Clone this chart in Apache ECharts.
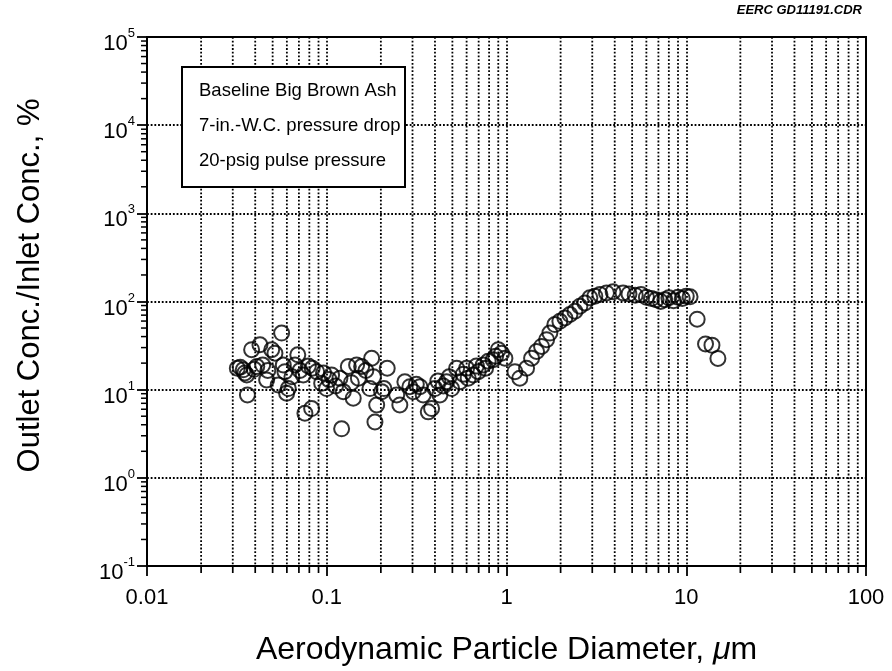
<!DOCTYPE html>
<html>
<head>
<meta charset="utf-8">
<script src="https://cdn.jsdelivr.net/npm/echarts@6/dist/echarts.min.js"></script>
<style>
  html, body { margin: 0; padding: 0; background: #fff; }
  #chart { width: 892px; height: 671px; }
</style>
</head>
<body>
<div id="chart"></div>
<script>
// Aerodynamic particle diameter, µm
const diameter = [
  0.0318, 0.0330, 0.0343, 0.0350, 0.0359, 0.0362, 0.0382, 0.0395, 0.0408, 0.0425,
  0.0440, 0.0463, 0.0470, 0.0494, 0.0515, 0.0537, 0.0561, 0.0573, 0.0585, 0.0598,
  0.0611, 0.0640, 0.0666, 0.0690, 0.0710, 0.0740, 0.0756, 0.0790, 0.0824, 0.0830,
  0.0879, 0.0937, 0.0960, 0.0998, 0.1030, 0.1064, 0.1120, 0.1184, 0.1210, 0.1236,
  0.1318, 0.1370, 0.1404, 0.1466, 0.1500, 0.1563, 0.1650, 0.1739, 0.1778, 0.1820,
  0.1854, 0.1896, 0.2020, 0.2080, 0.2170,
  0.245, 0.255, 0.272, 0.290, 0.303, 0.315, 0.330, 0.344, 0.367, 0.383,
  0.400, 0.415, 0.426, 0.445, 0.464, 0.480, 0.495, 0.528, 0.551, 0.575,
  0.600, 0.612, 0.653, 0.680, 0.696, 0.742, 0.765, 0.791, 0.843, 0.870,
  0.900, 0.939, 0.980,
  1.114, 1.186, 1.293, 1.379, 1.470, 1.567, 1.671, 1.743, 1.858, 1.981,
  2.113, 2.253, 2.402, 2.56, 2.73, 2.91, 3.10, 3.31, 3.60, 3.92,
  4.45, 4.80, 5.20, 5.60, 6.00, 6.40, 6.80, 7.20, 7.60, 8.00,
  8.50, 9.00, 9.50, 10.0, 10.5, 11.5, 12.8, 13.9, 15.0
];
// Outlet / inlet concentration, %
const penetration = [
  17.5, 18.0, 16.8, 15.5, 14.7, 8.7, 28.4, 17.0, 18.3, 32.3,
  19.0, 12.9, 16.5, 28.4, 25.9, 11.3, 43.8, 19.1, 16.0, 9.1,
  10.3, 14.0, 19.1, 24.9, 16.5, 14.7, 5.4, 18.5, 6.1, 17.5,
  16.0, 11.8, 15.5, 10.3, 13.0, 14.7, 11.0, 13.5, 3.6, 9.5,
  18.3, 12.0, 8.0, 19.1, 13.5, 18.3, 16.5, 10.3, 22.7, 14.0,
  4.3, 6.7, 9.5, 10.3, 17.5,
  8.7, 6.7, 12.3, 10.8, 9.5, 11.5, 10.8, 8.7, 5.6, 6.1,
  10.3, 12.5, 8.7, 11.0, 12.3, 14.0, 10.3, 17.5, 12.3, 15.0,
  17.5, 13.5, 14.7, 18.5, 16.0, 19.1, 17.5, 21.0, 21.9, 24.0,
  28.4, 25.9, 22.7,
  16.0, 13.5, 17.5, 22.7, 27.1, 30.9, 36.9, 43.8, 54.7, 59.6,
  65.0, 71.1, 77.5, 88.3, 96.4, 110, 115, 120, 125, 129,
  125, 122, 118, 120, 112, 108, 105, 100, 105, 110,
  102, 112, 108, 115, 113, 63, 33, 32, 22.6
];

const xTickLabels = ['0.01', '0.1', '1', '10', '100'];
const yTickExponents = ['-1', '0', '1', '2', '3', '4', '5'];
const noteLines = ['Baseline Big Brown Ash', '7-in.-W.C. pressure drop', '20-psig pulse pressure'];

const X_MIN = 0.01, X_MAX = 100, Y_MIN = 0.1, Y_MAX = 1e5;
const FONT = '"Liberation Sans", Arial, Helvetica, sans-serif';

// intermediate log ticks (2..9 within each decade)
function minorValues(lo, hi) {
  const out = [];
  for (let d = lo; d < hi * 0.999; d *= 10) {
    for (let m = 2; m <= 9; m++) out.push(+(m * d).toPrecision(3));
  }
  return out;
}
const xMinor = minorValues(X_MIN, X_MAX);
const yMinor = minorValues(Y_MIN, Y_MAX);

const points = diameter.map((d, i) => [d, penetration[i]]);

const dots = [1.8, 1.9];

const chart = echarts.init(document.getElementById('chart'), null, { renderer: 'canvas' });
chart.setOption({
  animation: false,
  backgroundColor: '#fff',
  grid: {
    left: 147, right: 26, top: 37, bottom: 105,
    show: true, borderColor: '#000', borderWidth: 2, backgroundColor: 'transparent'
  },
  xAxis: {
    type: 'log', logBase: 10, min: X_MIN, max: X_MAX, splitNumber: 4,
    name: 'Aerodynamic Particle Diameter, {i|μ}m',
    nameLocation: 'middle', nameGap: 68,
    nameTextStyle: {
      fontFamily: FONT, fontSize: 32, color: '#000',
      rich: { i: { fontFamily: FONT, fontSize: 32, fontStyle: 'italic', color: '#000' } }
    },
    axisLine: { lineStyle: { color: '#000', width: 2 } },
    axisTick: { inside: false, length: 10, lineStyle: { color: '#000', width: 1.8 } },
    axisLabel: {
      margin: 21, fontFamily: FONT, fontSize: 22, color: '#000',
      formatter: v => xTickLabels[Math.round(Math.log10(v)) + 2]
    },
    splitLine: { show: true, lineStyle: { color: '#000', width: 1.8, type: dots } }
  },
  yAxis: {
    type: 'log', logBase: 10, min: Y_MIN, max: Y_MAX, splitNumber: 6,
    name: 'Outlet Conc./Inlet Conc., %',
    nameLocation: 'middle', nameGap: 101, nameRotate: 90,
    nameTextStyle: { fontFamily: FONT, fontSize: 31, color: '#000', padding: [0, 0, 0, 32] },
    axisLine: { lineStyle: { color: '#000', width: 2 } },
    axisTick: { inside: false, length: 10, lineStyle: { color: '#000', width: 1.8 } },
    axisLabel: {
      margin: 12, padding: [8, 0, 0, 0],
      formatter: v => '{b|10}{s|' + yTickExponents[Math.round(Math.log10(v)) + 1] + '}',
      rich: {
        b: { fontFamily: FONT, fontSize: 22, color: '#000', lineHeight: 28, verticalAlign: 'bottom' },
        s: { fontFamily: FONT, fontSize: 13, color: '#000', lineHeight: 16, verticalAlign: 'top' }
      }
    },
    splitLine: { show: true, lineStyle: { color: '#000', width: 1.8, type: dots } }
  },
  series: [
    {
      // intermediate vertical grid lines with their ticks below the axis
      type: 'custom', z: 1, clip: false, silent: true,
      data: xMinor.map(v => [v, Y_MIN]),
      renderItem: (params, api) => {
        const v = api.value(0);
        const top = api.coord([v, Y_MAX]);
        const bot = api.coord([v, Y_MIN]);
        return {
          type: 'group',
          children: [
            { type: 'line', shape: { x1: top[0], y1: top[1], x2: bot[0], y2: bot[1] },
              style: { stroke: '#000', lineWidth: 1.8, lineDash: dots } },
            { type: 'line', shape: { x1: bot[0], y1: bot[1], x2: bot[0], y2: bot[1] + 7 },
              style: { stroke: '#000', lineWidth: 1.7 } }
          ]
        };
      }
    },
    {
      // intermediate ticks on the left of the y axis
      type: 'custom', z: 1, clip: false, silent: true,
      data: yMinor.map(v => [X_MIN, v]),
      renderItem: (params, api) => {
        const p = api.coord([X_MIN, api.value(1)]);
        return { type: 'line', shape: { x1: p[0] - 6, y1: p[1], x2: p[0], y2: p[1] },
                 style: { stroke: '#000', lineWidth: 1.5 } };
      }
    },
    {
      type: 'scatter', z: 3,
      data: points,
      symbol: 'circle', symbolSize: 15,
      itemStyle: { color: 'rgba(0,0,0,0)', borderColor: '#000', borderWidth: 2 }
    }
  ],
  graphic: [
    {
      type: 'group', left: 181, top: 66, z: 100,
      children: [
        { type: 'rect', z: 100, shape: { x: 0, y: 0, width: 223, height: 120 },
          style: { fill: '#fff', stroke: '#000', lineWidth: 2 } },
        ...noteLines.map((t, i) => ({
          type: 'text', z: 101, x: 17, y: 24 + i * 35,
          style: { text: t, fill: '#000', font: '18.5px ' + FONT, textVerticalAlign: 'middle' }
        }))
      ]
    },
    {
      type: 'text', right: 30, top: 4, z: 100,
      style: { text: 'EERC GD11191.CDR', fill: '#000', font: 'italic bold 13px ' + FONT }
    }
  ]
});
</script>
</body>
</html>
